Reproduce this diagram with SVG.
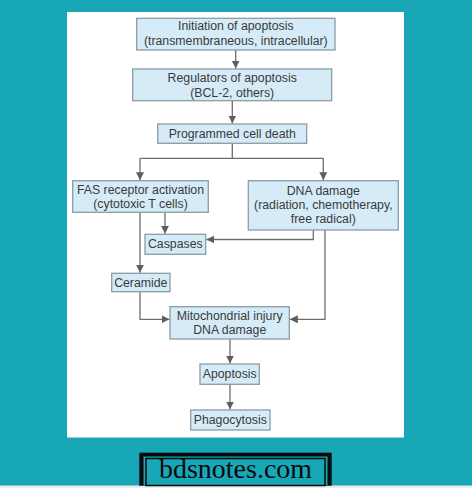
<svg xmlns="http://www.w3.org/2000/svg" width="472" height="488" viewBox="0 0 472 488">
<defs>
<style>
.box{fill:#d5ecf8;stroke:#8d9ba4;stroke-width:1.3}
.t{font-family:"Liberation Sans",Arial,sans-serif;font-size:12.3px;fill:#3a3a3a;text-anchor:middle}
.c{fill:none;stroke:#6e6e6e;stroke-width:1.3}
</style>
<marker id="ah" markerUnits="userSpaceOnUse" markerWidth="9" markerHeight="9" refX="8" refY="4" orient="auto">
<path d="M0,0 L8,4 L0,8 z" fill="#5e5e5e"/>
</marker>
</defs>
<rect x="0" y="0" width="472" height="488" fill="#17a7b6"/>
<rect x="67" y="12" width="337" height="425.5" fill="#ffffff"/>
<rect x="0" y="485.5" width="472" height="2.5" fill="#ececf0"/>

<g id="connectors">
<path class="c" d="M235.7,50 V68.5" marker-end="url(#ah)"/>
<path class="c" d="M232.3,100.7 V123.5" marker-end="url(#ah)"/>
<path class="c" d="M232.3,143.3 V158.3 M140,158.3 H323.3"/>
<path class="c" d="M140,158.3 V180.2" marker-end="url(#ah)"/>
<path class="c" d="M323.3,158.3 V180.2" marker-end="url(#ah)"/>
<path class="c" d="M165,212.3 V233.8" marker-end="url(#ah)"/>
<path class="c" d="M313.3,230 V239.5 H206.3" marker-end="url(#ah)"/>
<path class="c" d="M140,212.3 V272.8" marker-end="url(#ah)"/>
<path class="c" d="M140,291.7 V319.3 H169.5" marker-end="url(#ah)"/>
<path class="c" d="M325,230 V319.3 H289.8" marker-end="url(#ah)"/>
<path class="c" d="M230,339 V363.5" marker-end="url(#ah)"/>
<path class="c" d="M230,384.3 V409.5" marker-end="url(#ah)"/>
</g>

<g id="initiation">
<rect class="box" x="136.7" y="18.3" width="198.3" height="31.7"/>
<text class="t" x="235.8" y="30">Initiation of apoptosis</text>
<text class="t" x="235.8" y="45">(transmembraneous, intracellular)</text>
</g>
<g id="regulators">
<rect class="box" x="132.7" y="69" width="199" height="31.7"/>
<text class="t" x="232.2" y="81.5">Regulators of apoptosis</text>
<text class="t" x="232.2" y="96.5">(BCL-2, others)</text>
</g>
<g id="programmed">
<rect class="box" x="157.7" y="124" width="149" height="19.3"/>
<text class="t" x="232.2" y="137.5">Programmed cell death</text>
</g>
<g id="fas">
<rect class="box" x="72.7" y="180.7" width="135.6" height="31.6"/>
<text class="t" x="140.5" y="193.5">FAS receptor activation</text>
<text class="t" x="140.5" y="207.5">(cytotoxic T cells)</text>
</g>
<g id="dna">
<rect class="box" x="248.3" y="180.7" width="150" height="49.3"/>
<text class="t" x="323.3" y="194.5">DNA damage</text>
<text class="t" x="323.3" y="208.5">(radiation, chemotherapy,</text>
<text class="t" x="323.3" y="222.7">free radical)</text>
</g>
<g id="caspases">
<rect class="box" x="145" y="234.3" width="60.7" height="20"/>
<text class="t" x="175.3" y="247.8">Caspases</text>
</g>
<g id="ceramide">
<rect class="box" x="111.7" y="273.3" width="58.3" height="18.4"/>
<text class="t" x="140.8" y="287">Ceramide</text>
</g>
<g id="mito">
<rect class="box" x="170" y="306.7" width="119.3" height="32.3"/>
<text class="t" x="229.7" y="319.5">Mitochondrial injury</text>
<text class="t" x="229.7" y="333.5">DNA damage</text>
</g>
<g id="apoptosis">
<rect class="box" x="200" y="364" width="59.3" height="20.3"/>
<text class="t" x="229.7" y="378">Apoptosis</text>
</g>
<g id="phagocytosis">
<rect class="box" x="190.7" y="410" width="79.3" height="20"/>
<text class="t" x="230.3" y="424">Phagocytosis</text>
</g>

<g id="logo">
<rect x="139.3" y="452.7" width="192.4" height="33" fill="#0a0a0a"/>
<rect x="143.5" y="456.5" width="184" height="29" fill="#17a7b6"/>
<rect x="146" y="458.5" width="179" height="27" fill="none" stroke="#0a0a0a" stroke-width="1.5"/>
<text x="235.5" y="478" font-family="'Liberation Serif','Times New Roman',serif" font-size="28" fill="#0a0a0a" text-anchor="middle">bdsnotes.com</text>
</g>
</svg>
